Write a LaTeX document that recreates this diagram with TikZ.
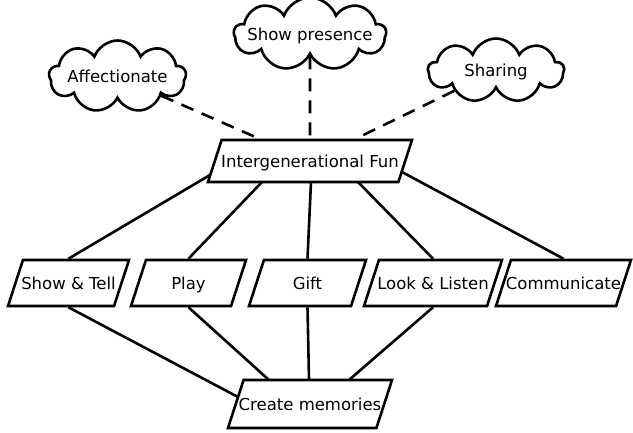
\documentclass[tikz,border=0pt]{standalone}
\usepackage{fontspec}
\setmainfont{DejaVu Sans}
\usetikzlibrary{shapes.geometric,shapes.symbols}
% text that may overhang the shape's outline without widening it
\newcommand\overhang[1]{\makebox[0pt]{#1}}
\begin{document}
\begin{tikzpicture}[x=1pt,y=-1pt,
  every node/.style={font=\fontsize{16.5}{19}\selectfont,
    text height=14pt, text depth=2pt},
  para/.style={draw, line width=2.6pt, trapezium,
    trapezium left angle=72, trapezium right angle=108,
    trapezium stretches body, inner xsep=0pt, inner ysep=15pt},
  idea/.style={draw, line width=2.6pt, cloud, cloud puffs=9,
    cloud puff arc=140, cloud ignores aspect, inner sep=0pt},
  link/.style={line width=2.6pt},
  hint/.style={line width=2.6pt, dash pattern=on 13pt off 9pt},
]
\useasboundingbox (0,0) rectangle (633,432);

% central theme
\node[para, minimum width=204pt, inner ysep=13pt] (ig) at (310,161)
  {\overhang{Intergenerational Fun}};

% activities
\node[para, minimum width=121pt] (st) at (68.5,283) {\overhang{Show \& Tell}};
\node[para, minimum width=115pt] (pl) at (188.5,283) {\overhang{Play}};
\node[para, minimum width=117pt] (gi) at (307.5,283) {\overhang{Gift}};
\node[para, minimum width=138pt] (ll) at (433,283) {\overhang{Look \& Listen}};
\node[para, minimum width=135pt] (co) at (563.5,283) {\overhang{Communicate}};

% outcome
\node[para, minimum width=164pt, inner ysep=16pt] (cm) at (310,404)
  {\overhang{Create memories}};

% values
\node[idea, minimum width=137pt, minimum height=72pt] (af) at (117.5,76.5) {\overhang{Affectionate}};
\node[idea, minimum width=152pt, minimum height=73pt] (sp) at (310,34) {\overhang{Show presence}};
\node[idea, minimum width=136pt, minimum height=64pt] (sh) at (496,70.5) {\overhang{Sharing}};

% values attached to the theme
\draw[hint] (af) -- (ig);
\draw[hint] (sp) -- (ig);
\draw[hint] (sh) -- (ig);

% theme to activities
\draw[link] ([shift={(-100,14)}]ig.center) -- (st.north);
\draw[link] ([shift={(-48,21)}]ig.center) -- (pl.north);
\draw[link] ([shift={(1,21)}]ig.center) -- (gi.north);
\draw[link] ([shift={(48,21)}]ig.center) -- (ll.north);
\draw[link] ([shift={(92,11)}]ig.center) -- (co.north);

% activities to outcome
\draw[link] (st.south) -- ([shift={(-72,-7)}]cm.center);
\draw[link] (pl.south) -- ([shift={(-41,-24)}]cm.center);
\draw[link] (gi.south) -- ([shift={(-1,-24)}]cm.center);
\draw[link] (ll.south) -- ([shift={(39,-24)}]cm.center);
\end{tikzpicture}
\end{document}
